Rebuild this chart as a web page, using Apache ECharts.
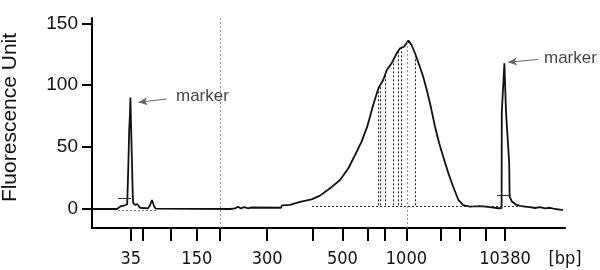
<!DOCTYPE html>
<html>
<head>
<meta charset="utf-8">
<script src="https://cdn.jsdelivr.net/npm/echarts@6.0.0/dist/echarts.min.js"></script>
<style>
html,body{margin:0;padding:0;background:#fff;}
#chart{width:600px;height:270px;}
</style>
</head>
<body>
<div id="chart"></div>
<script>
// Ladder (size standard) peaks: size in bp and migration time (s)
const ladderBp   = [35, 50, 100, 150, 200, 300, 400, 500, 600, 700, 1000, 2000, 3000, 7000, 10380];
const ladderTime = [29.7, 32.8, 39.75, 46.2, 52.0, 63.8, 75.1, 82.6, 88.9, 93.25, 98.6, 107.25, 112.0, 118.4, 123.25];
const labeledBp  = [35, 150, 300, 500, 1000, 10380];
const xUnitLabel = '[bp]';
const yTicks     = [0, 50, 100, 150];
const yTitle     = 'Fluorescence Unit';

// Electropherogram trace: migration time (s) and fluorescence (FU)
const traceTime = [20.0, 26.25, 26.6, 27.25, 28.25, 28.8, 29.1, 29.3, 29.5, 29.6, 29.75, 30.0, 30.2, 30.3, 30.75, 31.3, 32.0, 34.0, 34.5, 35.0, 35.5, 35.9,
  54.5, 55.0, 55.75, 56.5, 57.25, 58.0, 59.0, 59.75, 67.25, 67.5, 69.5, 70.5, 72.0, 74.9, 77.0, 79.5, 82.0, 84.1, 85.75, 87.4, 88.8, 90.3,
  91.6, 92.8, 93.7, 94.9, 96.2, 97.0, 98.0, 99.1, 99.9, 100.75, 101.8, 102.8, 103.7, 104.7, 105.75, 106.8, 107.8, 109.1, 110.3, 111.6,
  112.8, 114.5, 117.0, 119.5, 121.5, 122.4, 122.45, 123.1, 123.5, 124.3, 124.4, 125.0, 126.0, 127.0, 128.25, 129.5, 130.75, 132.0,
  133.25, 134.5, 135.75, 137.0, 137.75];
const traceFU = [0, 0, 1.0, 2.4, 3.0, 3.8, 37, 64, 77.5, 90, 69, 37, 10, 5, 3.2, 4, 1, 0.5, 3, 7.3, 2.4, 0.3,
  0, 1.5, 0.5, 1.8, 0.4, 1.6, 0.6, 1.2, 1.0, 3.0, 3.4, 4.4, 5.7, 7.8, 10.8, 16.7, 23.4, 32.9, 43.6, 54.4, 66.5, 84,
  97.5, 104.2, 112.3, 117.7, 125.8, 129.8, 131.1, 136, 132.5, 125.8, 116.3, 106.9, 96.1, 82.6, 66.5, 53.1, 42.2, 28.8, 18, 7.3,
  3.2, 1.9, 2.4, 1.6, 0.6, 0.8, 78.6, 117.7, 78.6, 37, 10, 6, 3.5, 2.5, 2, 1.5, 0.8, 1.5,
  0.5, 1.0, 0, -0.5, -1];

// Region / integration marks (time, top FU)
const regionTime = [91.6, 92.0, 93.25, 95.3, 96.6, 97.4, 100.75];
const regionTop  = [97, 100, 111, 120, 127, 130, 125];
const regionBase = 3;
const smearStart = 75.0, smearEnd = 128.0, smearLevel = 2.3;
const guideTimes = [52.0, 98.7];     // gray guides at 200 bp and 1000 bp
const guideTop   = [154.3, 135];
const markerBracketTime = [[26.5, 29.75], [121.25, 124.75]];
const markerBracketFU   = [9, 11];

// Annotations: text anchor and arrow (tail -> tip)
const noteText   = ['marker', 'marker'];
const noteTime   = [41.0, 133.0];
const noteFU     = [91.3, 122.0];
const arrowTail  = [[38.7, 88.9], [131.6, 120.9]];
const arrowTip   = [[31.6, 86.2], [124.0, 118.5]];

const X_MIN = 20, X_MAX = 138.25, Y_MIN = -15.35, Y_MAX = 154.3;

const labelTimes = labeledBp.map(b => ladderTime[ladderBp.indexOf(b)]).concat([X_MAX]);

const traceData = traceTime.map((t, i) => [t, traceFU[i]]);

const markLines = [];
regionTime.forEach((t, i) => {
  markLines.push([{coord: [t, regionBase], lineStyle: {color: '#222', type: [2, 2], width: 1}}, {coord: [t, regionTop[i]]}]);
});
markLines.push([{coord: [smearStart, smearLevel], lineStyle: {color: '#333', type: [2, 2], width: 1}}, {coord: [smearEnd, smearLevel]}]);
markLines.push([{coord: [26.5, -0.8], lineStyle: {color: '#777', type: [2, 2], width: 1}}, {coord: [36, -0.8]}]);
guideTimes.forEach((t, i) => {
  markLines.push([{coord: [t, Y_MIN], lineStyle: {color: '#999', type: [2, 2], width: 1}}, {coord: [t, guideTop[i]]}]);
});
markerBracketTime.forEach((r, i) => {
  markLines.push([{coord: [r[0], markerBracketFU[i]], lineStyle: {color: '#333', type: 'solid', width: 1}}, {coord: [r[1], markerBracketFU[i]]}]);
});

const arrowLines = arrowTail.map((a, i) => [{coord: a}, {coord: arrowTip[i]}]);

const chart = echarts.init(document.getElementById('chart'), null, {renderer: 'canvas'});
chart.setOption({
  animation: false,
  backgroundColor: '#fff',
  grid: {left: 92, right: 35, top: 18, bottom: 42, containLabel: false, outerBoundsMode: 'none'},
  xAxis: {
    type: 'value', min: X_MIN, max: X_MAX,
    splitLine: {show: false},
    axisLine: {show: true, onZero: false, lineStyle: {color: '#000', width: 2}},
    axisTick: {show: true, customValues: ladderTime, length: 13, lineStyle: {color: '#000', width: 2}},
    axisLabel: {
      customValues: labelTimes, margin: 22, fontSize: 18,
      fontFamily: "'DejaVu Sans Condensed','DejaVu Sans',sans-serif", color: '#111',
      showMinLabel: true, showMaxLabel: true,
      formatter: function (v) {
        if (Math.abs(v - X_MAX) < 1e-6) return xUnitLabel;
        for (let i = 0; i < ladderTime.length; i++) {
          if (Math.abs(ladderTime[i] - v) < 1e-6) return String(ladderBp[i]);
        }
        return '';
      }
    }
  },
  yAxis: {
    type: 'value', min: Y_MIN, max: Y_MAX,
    splitLine: {show: false},
    axisLine: {show: true, lineStyle: {color: '#000', width: 2}},
    axisTick: {show: true, customValues: yTicks, length: 10, lineStyle: {color: '#000', width: 2}},
    axisLabel: {customValues: yTicks, margin: 14, fontSize: 19, fontFamily: "'Liberation Sans', Arial, sans-serif", color: '#111'},
    name: yTitle, nameLocation: 'middle', nameRotate: 90, nameGap: 71,
    nameTextStyle: {fontSize: 21, fontFamily: "'Liberation Sans', Arial, sans-serif", color: '#111', padding: [0, 0, 0, 11]}
  },
  series: [
    {
      type: 'line', data: traceData, showSymbol: false, symbol: 'none',
      lineStyle: {color: '#111', width: 1.8}, z: 3,
      markLine: {silent: true, symbol: ['none', 'none'], label: {show: false}, data: markLines, animation: false}
    },
    {
      type: 'line', data: [], silent: true,
      markLine: {silent: true, symbol: ['none', 'arrow'], symbolSize: [6, 9], label: {show: false},
        lineStyle: {color: '#666', width: 1, type: 'solid'}, data: arrowLines, animation: false}
    },
    {
      type: 'scatter', symbolSize: 0, silent: true,
      data: noteTime.map((t, i) => ({value: [t, noteFU[i]], name: noteText[i]})),
      label: {show: true, position: 'right', distance: 0, formatter: p => p.name,
        fontSize: 17, fontFamily: "'Liberation Sans', Arial, sans-serif", color: '#111'}
    }
  ]
});
</script>
</body>
</html>
